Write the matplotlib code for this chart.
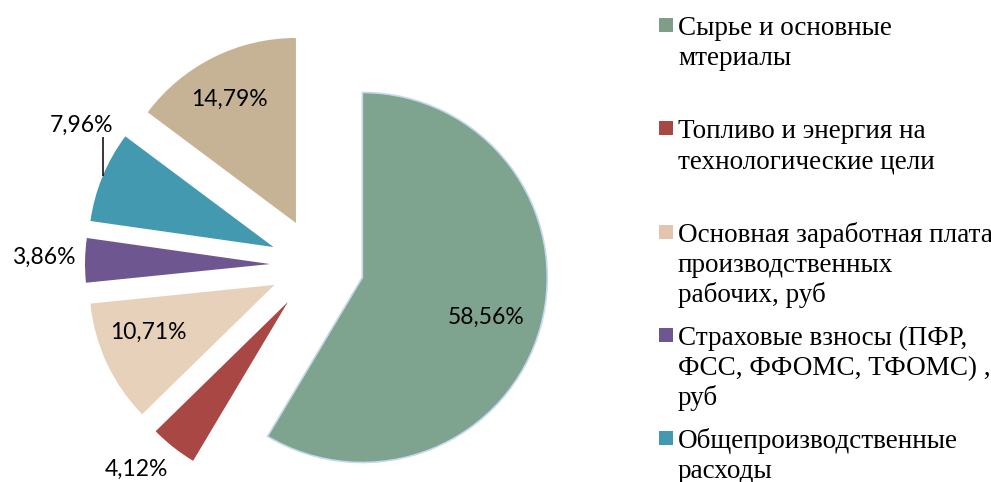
import numpy as np
import matplotlib
matplotlib.use("Agg")
import matplotlib.pyplot as plt
from matplotlib.patches import Rectangle

# данные (доли затрат, %)
shares = [58.56, 4.12, 10.71, 3.86, 7.96, 14.79]
legend_labels = [
    "Сырье и основные\nмтериалы",
    "Топливо и энергия на\nтехнологические цели",
    "Основная заработная плата\nпроизводственных\nрабочих, руб",
    "Страховые взносы (ПФР,\nФСС, ФФОМС, ТФОМС) ,\nруб",
    "Общепроизводственные\nрасходы",
]

colors = ["#7ea48f", "#a94744", "#e7d1bb", "#6e5790", "#4299b0", "#c6b396"]
legend_colors = ["#7f9d89", "#a94744", "#e3c5ae", "#6e5790", "#4299b0"]

# где ставить подписи: расстояние (в радиусах) и поворот от биссектрисы, град
label_dist = [0.70, 1.22, 0.73, 1.225, 1.23, 0.76]
label_nudge = [-2.3, -3.8, -4.5, -0.5, -9.9, 1.8]

W, H = 991, 482
R = 185.0          # радиус в пикселях
cx, cy = 317, 265  # центр круга (пиксели картинки)

fig = plt.figure(figsize=(W / 100, H / 100), dpi=100)
ax = fig.add_axes([0, 0, 1, 1])

wedges, _ = ax.pie(shares, radius=1, startangle=90, counterclock=False,
                   explode=[0.254] * len(shares), colors=colors,
                   wedgeprops=dict(linewidth=0))
wedges[0].set_edgecolor("#c8d8ee")
wedges[0].set_linewidth(1.2)

ax.set_xlim(-cx / R, (W - cx) / R)
ax.set_ylim((cy - H) / R, cy / R)
ax.set_aspect("auto")
ax.axis("off")

for i, w in enumerate(wedges):
    th = 0.5 * (w.theta1 + w.theta2)
    a = np.radians(th + label_nudge[i])
    x0, y0 = w.center
    tx = x0 + label_dist[i] * np.cos(a)
    ty = y0 + label_dist[i] * np.sin(a)
    txt = f"{shares[i]:.2f}%".replace(".", ",")
    ax.text(tx, ty, txt, ha="center", va="center", family="Lato",
            fontsize=16.5, color="black")
    if i == 4:
        # выноска для 7,96%
        sx = x0 + np.cos(np.radians(th))
        sy = y0 + np.sin(np.radians(th))
        ax.plot([sx, sx], [sy, ty - 0.065], color="black", lw=1.1,
                solid_capstyle="butt")

# легенда справа
for i, lab in enumerate(legend_labels):
    base = 35 + 103.3 * i
    fig.patches.append(Rectangle((659 / W, 1 - (base - 3) / H), 14 / W, 14 / H,
                                 transform=fig.transFigure,
                                 facecolor=legend_colors[i], edgecolor="none"))
    for j, line in enumerate(lab.split("\n")):
        fig.text(678 / W, 1 - (base + 30 * j) / H, line, va="baseline",
                 ha="left", family="Liberation Serif", fontsize=19.5,
                 color="black")

fig.savefig("out.png", dpi=100)
